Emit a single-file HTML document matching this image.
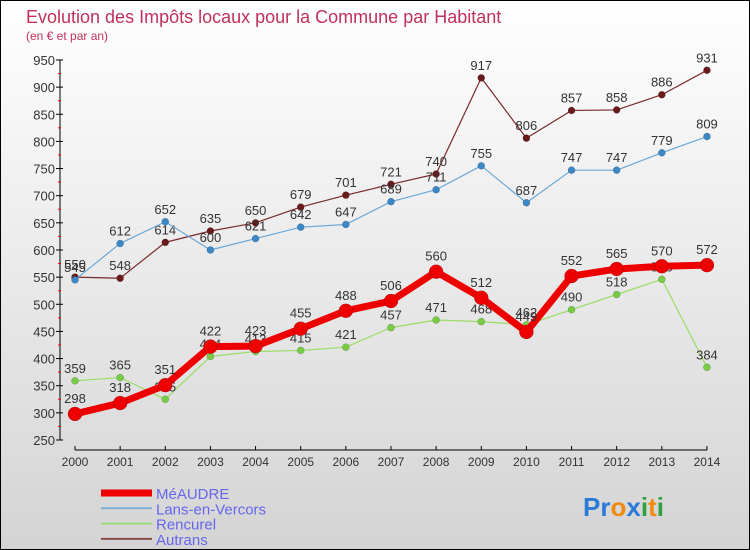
<!DOCTYPE html>
<html><head><meta charset="utf-8"><style>
body{margin:0}
#c{width:748px;height:548px;border:1px solid #000;background:linear-gradient(#fff,#d4d4d4);position:relative;font-family:"Liberation Sans",sans-serif;overflow:hidden}
</style></head><body>
<div id="c">
<svg id="s" width="748" height="548"></svg>
</div>
<script>
const years=[2000,2001,2002,2003,2004,2005,2006,2007,2008,2009,2010,2011,2012,2013,2014];
const meaudre=[298,318,351,422,423,455,488,506,560,512,449,552,565,570,572];
const lans=[545,612,652,600,621,642,647,689,711,755,687,747,747,779,809];
const rencurel=[359,365,325,404,413,415,421,457,471,468,462,490,518,546,384];
const autrans=[550,548,614,635,650,679,701,721,740,917,806,857,858,886,931];
const yTicks=[250,300,350,400,450,500,550,600,650,700,750,800,850,900,950];
const NS='http://www.w3.org/2000/svg';
const s=document.getElementById('s');
const X=i=>74+i*45.14;
const Y=v=>439-(v-250)*0.5429;
function el(t,a,p){const e=document.createElementNS(NS,t);for(const k in a)e.setAttribute(k,a[k]);(p||s).appendChild(e);return e;}
function tx(x,y,str,a){const e=el('text',Object.assign({x:x,y:y},a));e.textContent=str;return e;}
// title
let t=tx(25,22,'Evolution des Impôts locaux pour la Commune par Habitant',{fill:'#c0305a','font-size':18});

t=tx(25,39,'(en € et par an)',{fill:'#c0305a','font-size':12});

// y axis
let a=el('line',{x1:59,y1:Y(950),x2:59,y2:Y(250),stroke:'#000'});

yTicks.forEach((v,i)=>{
 el('line',{x1:55,x2:62,y1:Y(v),y2:Y(v),stroke:'#000'});
 if(i<yTicks.length-1) el('line',{x1:57,x2:60,y1:Y(v+25),y2:Y(v+25),stroke:'#f00'});
 const l=tx(54,Y(v)+5,v,{'text-anchor':'end','font-size':13,fill:'#333'});
 
});
a=el('line',{x1:X(0),y1:449,x2:X(14),y2:449,stroke:'#000'});

years.forEach((y,i)=>{
 el('line',{x1:X(i),x2:X(i),y1:445,y2:449,stroke:'#000'});
 const l=tx(X(i),465,y,{'text-anchor':'middle','font-size':12,fill:'#333'});
 
});
function series(data,color,dot,w,r,name,lblOff){
 const g=el('g',{});
 
 const pts=data.map((v,i)=>X(i)+','+Y(v)).join(' ');
 el('polyline',{points:pts,fill:'none',stroke:color,'stroke-width':w,'stroke-linejoin':'round'},g);
 data.forEach((v,i)=>{
  const c=el('circle',{cx:X(i),cy:Y(v),r:r,fill:dot,stroke:'rgba(0,0,0,0.3)','stroke-width':0.5},g);
  
  const l=tx(X(i),Y(v)-lblOff,v,{'text-anchor':'middle','font-size':13,fill:'#333'},g);
  
 });
}
series(autrans,'#7a2a2a','#6a1a1a',1.2,3.5,'autrans',8);
series(lans,'#6aa8d8','#3a88c8',1.2,3.5,'lans',8);
series(rencurel,'#99dd66','#77cc44',1.2,3.5,'rencurel',8);
series(meaudre,'#ee0000','#ee0000',7,7,'meaudre',11);
// legend
const leg=[['MéAUDRE','#ee0000',7],['Lans-en-Vercors','#7ab0d8',2],['Rencurel','#99dd77',2],['Autrans','#8a4a4a',2]];
leg.forEach((L,i)=>{
 const y=492+i*15.3;
 const g=el('g',{});
 
 el('line',{x1:100,x2:151,y1:y,y2:y,stroke:L[1],'stroke-width':L[2]},g);
 tx(155,y+6,L[0],{'font-size':15,fill:'#6666ee'},g);
});
// logo
const lg=el('text',{x:582,y:515,'font-size':26,'font-weight':'bold'});

[['P','#2a7ad8'],['r','#2a7ad8'],['o','#f08a10'],['x','#2a7ad8'],['i','#30a040'],['t','#f08a10'],['i','#30a040']].forEach(p=>{
 const ts=el('tspan',{fill:p[1]},lg);ts.textContent=p[0];
});
</script>
</body></html>
